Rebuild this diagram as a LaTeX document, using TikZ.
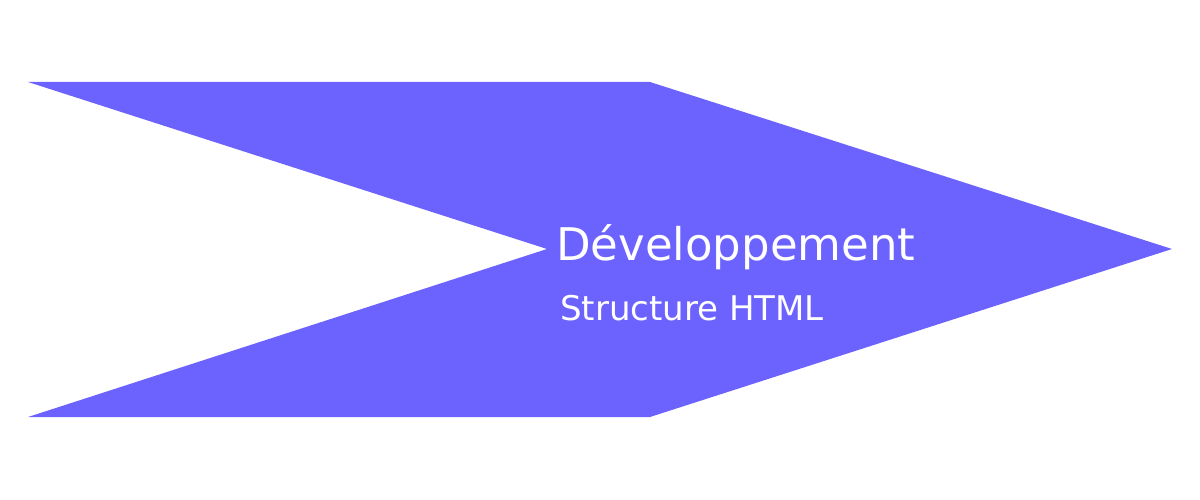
\documentclass[tikz,border=0pt]{standalone}
\usepackage{fontspec}
\setmainfont{DejaVu Sans}
\definecolor{chev}{HTML}{6C63FF}
\begin{document}
\begin{tikzpicture}[x=1pt,y=-1pt,
  title/.style={text=white,font=\fontsize{45}{50}\selectfont,anchor=base west,inner sep=0pt},
  sub/.style={text=white,font=\fontsize{34}{38}\selectfont,anchor=base west,inner sep=0pt}]
\useasboundingbox (0,0) rectangle (1200,500);
\fill[chev] (28,82) -- (650,82) -- (1172,249) -- (650,417) -- (28,417) -- (547,249) -- cycle;
\node[title] (t) at (556,260) {Développement};
\node[sub] (s) at (560,320) {Structure HTML};
\end{tikzpicture}
\end{document}
